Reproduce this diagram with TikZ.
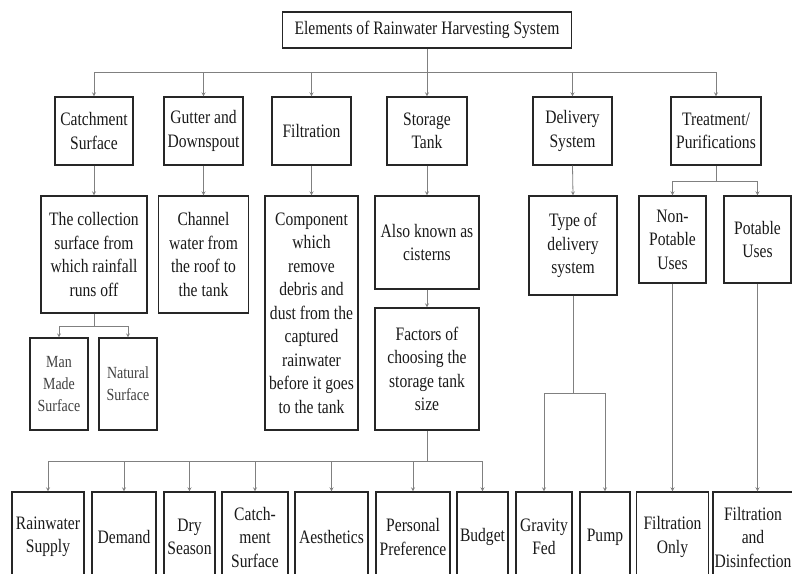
\documentclass[tikz,border=0pt]{standalone}
\usepackage{fontspec}
\setmainfont{Liberation Serif}[FakeStretch=0.82]
\usetikzlibrary{arrows}
\tikzstyle{box}=[rectangle,draw=black!85,line width=1.3pt,align=center,inner sep=1pt,text=black!90,font=\fontsize{19}{23.5}\selectfont]
\tikzstyle{smallbox}=[box,line width=1.1pt,text=black!75,font=\fontsize{17}{22}\selectfont]
\tikzstyle{line}=[draw=black!50,line width=0.8pt]
\tikzstyle{arrow}=[line,->,>=stealth]

\begin{document}
\begin{tikzpicture}[x=1pt,y=-1pt]
\useasboundingbox (0,0) rectangle (792,573);

\node[box,minimum width=289,minimum height=36] (title) at (427,30) {Elements of Rainwater Harvesting System};

\node[box,minimum width=78,minimum height=68] (catch) at (94,131) {Catchment\\Surface};
\node[box,minimum width=79,minimum height=68] (gutter) at (203.5,131) {Gutter and\\Downspout};
\node[box,minimum width=79,minimum height=68] (filt) at (311.5,131) {Filtration};
\node[box,minimum width=80,minimum height=68] (stor) at (427,131) {Storage\\Tank};
\node[box,minimum width=79,minimum height=68] (deliv) at (572.5,131) {Delivery\\System};
\node[box,minimum width=90,minimum height=68] (treat) at (716,131) {Treatment/\\Purifications};

\node[box,minimum width=106,minimum height=117] (coll) at (94,254.5) {The collection\\surface from\\which rainfall\\runs off};
\node[box,minimum width=90,minimum height=117] (chan) at (203.5,254.5) {Channel\\water from\\the roof to\\the tank};
\node[box,minimum width=93,minimum height=234] (comp) at (311.5,313) {Component\\which\\remove\\debris and\\dust from the\\captured\\rainwater\\before it goes\\to the tank};
\node[box,minimum width=104,minimum height=93] (cist) at (427,242.5) {Also known as\\cisterns};
\node[box,minimum width=104,minimum height=122] (fact) at (427,369) {Factors of\\choosing the\\storage tank\\size};
\node[box,minimum width=88,minimum height=99] (type) at (573,245.5) {Type of\\delivery\\system};
\node[box,minimum width=67,minimum height=87] (nonp) at (672.5,239.5) {Non-\\Potable\\Uses};
\node[box,minimum width=67,minimum height=87] (pot) at (757.5,239.5) {Potable\\Uses};

\node[smallbox,minimum width=58,minimum height=92] (man) at (59,384) {Man\\Made\\Surface};
\node[smallbox,minimum width=58,minimum height=92] (nat) at (128,384) {Natural\\Surface};

\node[box,minimum width=72,minimum height=90] (rain) at (48,537) {Rainwater\\Supply};
\node[box,minimum width=64,minimum height=90] (dem) at (124,537) {Demand};
\node[box,minimum width=51,minimum height=90] (dry) at (189.5,537) {Dry\\Season};
\node[box,minimum width=66,minimum height=90] (catm) at (255,537) {Catch-\\ment\\Surface};
\node[box,minimum width=73,minimum height=90] (aes) at (331.5,537) {Aesthetics};
\node[box,minimum width=74,minimum height=90] (pers) at (413,537) {Personal\\Preference};
\node[box,minimum width=51,minimum height=90] (bud) at (482.5,537) {Budget};
\node[box,minimum width=56,minimum height=90] (grav) at (544,537) {Gravity\\Fed};
\node[box,minimum width=50,minimum height=90] (pump) at (605,537) {Pump};
\node[box,minimum width=72,minimum height=90] (fonly) at (672.5,537) {Filtration\\Only};
\node[box,minimum width=80,minimum height=90] (fdis) at (753,537) {Filtration\\and\\Disinfection};

\coordinate (b0) at (427,72);
\coordinate (b1) at (716,181);
\coordinate (b2) at (94,326);
\coordinate (b3) at (427,461);
\coordinate (b4) at (573,393);

\draw[line] (title.south) -- (b0);
\foreach \n in {catch,gutter,filt,stor,deliv,treat}
	\draw[arrow] (b0) -| (\n.north);

\draw[arrow] (catch.south) -- (coll.north);
\draw[arrow] (gutter.south) -- (chan.north);
\draw[arrow] (filt.south) -- (comp.north);
\draw[arrow] (stor.south) -- (cist.north);
\draw[arrow] (cist.south) -- (fact.north);
\draw[arrow] (deliv.south) -- (type.north);

\draw[line] (treat.south) -- (b1);
\foreach \n in {nonp,pot}
	\draw[arrow] (b1) -| (\n.north);

\draw[line] (coll.south) -- (b2);
\foreach \n in {man,nat}
	\draw[arrow] (b2) -| (\n.north);

\draw[line] (fact.south) -- (b3);
\foreach \n in {rain,dem,dry,catm,aes,pers,bud}
	\draw[arrow] (b3) -| (\n.north);

\draw[line] (type.south) -- (b4);
\foreach \n in {grav,pump}
	\draw[arrow] (b4) -| (\n.north);

\draw[arrow] (nonp.south) -- (fonly.north);
\draw[arrow] (pot.south) -- ([xshift=4.5pt]fdis.north);
\end{tikzpicture}
\end{document}
